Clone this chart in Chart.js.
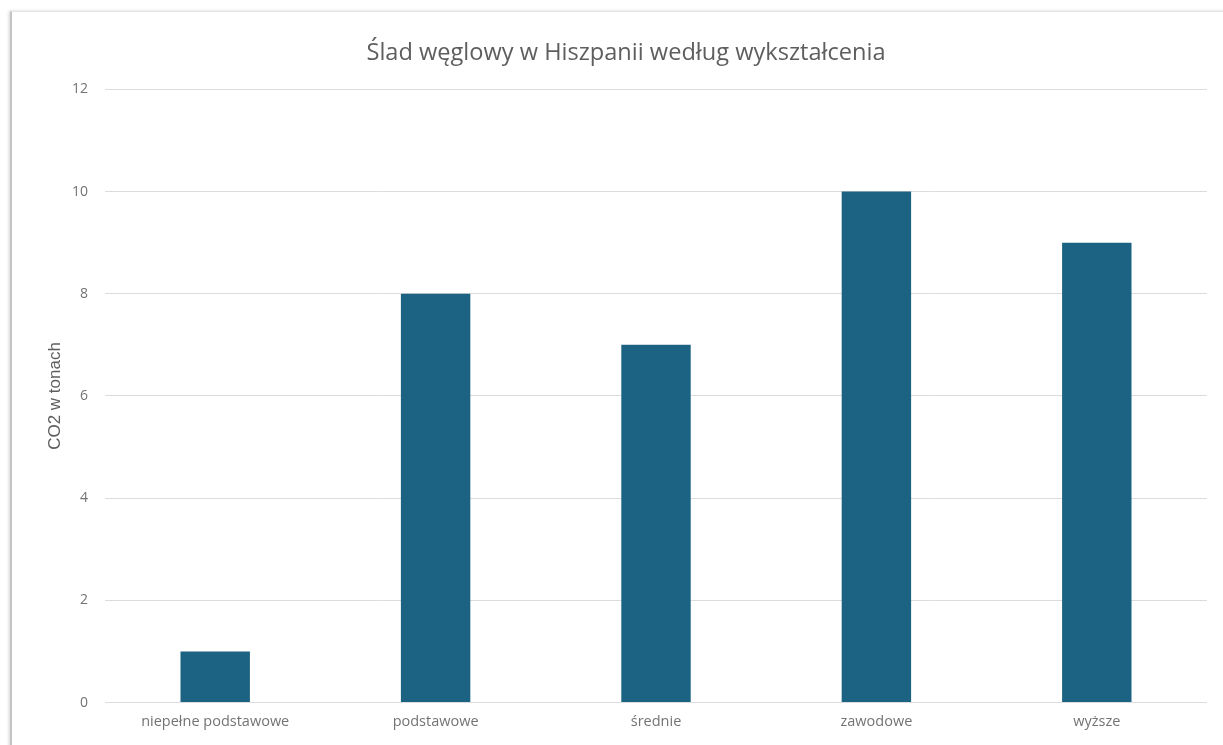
<!DOCTYPE html>
<html lang="pl">
<head>
<meta charset="utf-8">
<title>Ślad węglowy w Hiszpanii według wykształcenia</title>
<script src="https://cdn.jsdelivr.net/npm/chart.js@4"></script>
<style>
  html, body { margin: 0; padding: 0; background: #ffffff; }
  body { width: 1223px; height: 745px; position: relative; overflow: hidden; }
  .frame {
    position: absolute; left: 10px; top: 11px; width: 1240px; height: 760px;
    border-top: 1px solid #e4e4e4; border-left: 2px solid #c4c4c4;
    box-shadow: -1px 0 3px rgba(0,0,0,0.18);
  }
  #wrap { position: absolute; left: 0; top: 0; width: 1223px; height: 745px; }
</style>
</head>
<body>
<div class="frame"></div>
<div id="wrap"><canvas id="chart"></canvas></div>
<script>
// Education levels and average carbon footprint (tonnes of CO2)
const categories = ['niepełne podstawowe', 'podstawowe', 'średnie', 'zawodowe', 'wyższe'];
const co2Tonnes = [1, 8, 7, 10, 9];
const yTicks = [0, 2, 4, 6, 8, 10, 12];

const chartTitle = 'Ślad węglowy w Hiszpanii według wykształcenia';
const yAxisTitle = 'CO2 w tonach';

new Chart(document.getElementById('chart'), {
  type: 'bar',
  data: {
    labels: categories,
    datasets: [{
      data: co2Tonnes,
      backgroundColor: '#1c6383',
      borderWidth: 0,
      categoryPercentage: 1,
      barPercentage: 0.315
    }]
  },
  options: {
    responsive: true,
    maintainAspectRatio: false,
    animation: false,
    layout: { padding: { left: 45, right: 16, top: 0, bottom: 3 } },
    plugins: {
      legend: { display: false },
      tooltip: { enabled: false },
      title: {
        display: true,
        text: chartTitle,
        color: '#5e5e5e',
        font: { family: 'Open Sans', size: 23.6, weight: 'normal' },
        padding: { top: 39, bottom: 22 }
      }
    },
    scales: {
      x: {
        grid: { display: false, drawTicks: false },
        border: { display: false },
        ticks: {
          color: '#737373',
          font: { family: 'Open Sans', size: 14.5 },
          padding: 11,
          maxRotation: 0
        }
      },
      y: {
        min: 0,
        max: 12,
        afterBuildTicks: (axis) => { axis.ticks = yTicks.map(v => ({ value: v })); },
        afterFit: (axis) => { axis.width = 60; },
        grid: { color: '#dcdcdc', lineWidth: 1, drawTicks: false },
        border: { display: false },
        ticks: {
          color: '#737373',
          font: { family: 'Open Sans', size: 14 },
          padding: 17
        },
        title: {
          display: true,
          text: yAxisTitle,
          color: '#5e5e5e',
          font: { family: 'Liberation Sans', size: 17 },
          padding: { top: 0, bottom: 7 }
        }
      }
    }
  }
});
</script>
</body>
</html>
